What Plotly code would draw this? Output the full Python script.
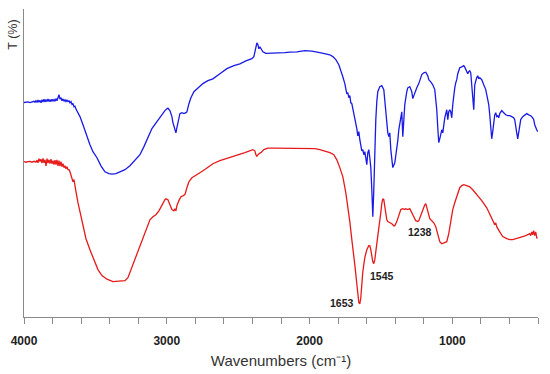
import plotly.graph_objects as go

# ---- Data ----
blue_wn = [4000, 3986, 3972, 3958, 3944, 3930, 3923, 3916, 3909, 3902, 3895, 3888, 3881, 3874, 3867, 3860,
           3853, 3846, 3839, 3832, 3825, 3818, 3811, 3804, 3797, 3790, 3783, 3776, 3769, 3762, 3755, 3748,
           3741, 3734, 3727, 3720, 3713, 3706, 3699, 3692, 3685, 3678, 3671, 3664, 3657, 3650, 3643, 3636,
           3622, 3608, 3587, 3559, 3538, 3517, 3489, 3461, 3433, 3405, 3384, 3356, 3328, 3293, 3258, 3223,
           3188, 3160, 3132, 3104, 3069, 3041, 3013, 2999, 2992, 2978, 2964, 2957, 2950, 2943, 2936, 2929,
           2922, 2915, 2908, 2894, 2880, 2866, 2859, 2845, 2831, 2810, 2782, 2747, 2712, 2677, 2628, 2579,
           2530, 2488, 2446, 2404, 2390, 2383, 2376, 2369, 2362, 2355, 2348, 2341, 2327, 2306, 2278, 2243,
           2208, 2173, 2138, 2089, 2033, 1984, 1928, 1886, 1858, 1837, 1816, 1795, 1781, 1767, 1753, 1746,
           1739, 1732, 1725, 1718, 1711, 1704, 1690, 1676, 1669, 1662, 1655, 1648, 1641, 1634, 1627, 1620,
           1613, 1606, 1599, 1592, 1585, 1578, 1571, 1564, 1557, 1550, 1543, 1536, 1529, 1522, 1508, 1494,
           1480, 1473, 1466, 1459, 1452, 1445, 1438, 1431, 1424, 1417, 1403, 1389, 1382, 1375, 1368, 1361,
           1354, 1347, 1340, 1333, 1319, 1312, 1298, 1284, 1277, 1270, 1256, 1249, 1235, 1214, 1200, 1186,
           1172, 1165, 1151, 1137, 1123, 1116, 1109, 1102, 1095, 1088, 1081, 1074, 1067, 1060, 1053, 1039,
           1032, 1025, 1018, 1011, 1004, 997, 990, 983, 976, 969, 962, 948, 934, 920, 913, 906,
           899, 892, 885, 878, 871, 864, 857, 850, 843, 836, 829, 822, 815, 808, 794, 780,
           766, 759, 745, 738, 731, 724, 717, 710, 703, 696, 689, 682, 675, 668, 654, 640,
           626, 612, 598, 584, 570, 563, 556, 549, 542, 535, 528, 521, 507, 493, 479, 465,
           451, 437, 430, 423, 416, 409, 402]
blue_T = [71.4, 71.5, 71.6, 71.4, 71.7, 71.8, 71.5, 72.0, 71.4, 72.2, 71.5, 72.1, 71.3, 72.3, 71.6, 72.5,
          71.6, 72.4, 71.7, 72.6, 71.7, 72.4, 71.7, 72.5, 71.9, 72.4, 71.8, 72.7, 72.0, 73.3, 74.0, 72.5,
          73.0, 72.0, 72.6, 71.8, 72.3, 71.7, 72.2, 71.7, 72.0, 71.3, 71.7, 70.8, 71.0, 70.0, 70.2, 69.2,
          68.0, 66.7, 64.0, 60.0, 57.3, 55.0, 53.0, 50.3, 48.3, 47.7, 47.5, 47.7, 48.2, 49.0, 50.3, 52.0,
          54.0, 56.7, 60.0, 62.7, 65.0, 67.0, 68.7, 69.3, 69.5, 68.7, 66.7, 64.7, 63.3, 62.0, 61.3, 63.0,
          65.0, 66.3, 67.7, 68.0, 67.7, 68.0, 68.3, 71.0, 73.0, 75.0, 76.3, 77.7, 78.7, 79.3, 81.0, 82.7,
          83.7, 84.3, 85.3, 86.0, 86.7, 88.3, 90.3, 91.3, 90.7, 89.3, 90.0, 89.3, 88.3, 87.8, 87.8, 88.0,
          87.8, 88.0, 88.2, 88.3, 88.7, 88.5, 88.0, 87.7, 87.3, 86.7, 85.7, 84.0, 82.3, 80.0, 77.7, 75.0,
          74.3, 74.7, 73.0, 73.7, 71.3, 71.0, 68.0, 64.3, 62.7, 60.3, 61.7, 59.0, 57.0, 55.3, 55.7, 54.0,
          55.0, 52.3, 50.7, 54.7, 55.7, 53.0, 49.7, 42.3, 33.3, 42.3, 55.7, 65.7, 71.7, 75.0, 76.7, 77.0,
          75.7, 72.3, 67.3, 64.0, 61.3, 60.0, 61.3, 55.7, 51.3, 49.7, 51.3, 55.7, 58.7, 62.3, 64.0, 66.3,
          68.3, 60.0, 68.3, 70.7, 75.0, 76.3, 76.7, 75.0, 72.7, 73.7, 75.7, 76.3, 77.7, 80.7, 81.3, 81.5,
          80.3, 79.0, 78.3, 77.3, 75.7, 73.0, 69.0, 63.0, 58.0, 59.3, 61.7, 62.3, 61.3, 64.0, 66.3, 69.0,
          65.7, 68.3, 69.0, 68.3, 66.3, 70.7, 74.0, 76.3, 78.0, 79.0, 81.0, 83.0, 83.3, 83.7, 83.2, 82.3,
          81.7, 81.0, 81.7, 82.0, 81.3, 76.7, 72.3, 69.0, 77.3, 79.0, 79.7, 80.3, 79.3, 79.7, 79.0, 77.3,
          75.7, 74.0, 70.7, 67.3, 62.3, 59.3, 61.7, 65.0, 67.3, 68.0, 66.7, 67.0, 66.3, 67.7, 68.7, 68.0,
          67.3, 67.0, 67.0, 66.7, 66.3, 65.7, 64.0, 61.3, 59.3, 61.3, 64.0, 65.7, 66.7, 67.3, 67.7, 67.3,
          67.0, 66.3, 65.7, 64.0, 62.7, 62.3, 61.7]

red_wn = [4000, 3986, 3972, 3958, 3944, 3930, 3916, 3909, 3902, 3895, 3888, 3881, 3874, 3867, 3860, 3853,
          3846, 3839, 3832, 3825, 3818, 3811, 3804, 3797, 3790, 3783, 3776, 3769, 3762, 3755, 3748, 3741,
          3734, 3727, 3720, 3713, 3706, 3699, 3692, 3685, 3678, 3671, 3664, 3657, 3650, 3643, 3636, 3622,
          3608, 3587, 3566, 3538, 3510, 3482, 3454, 3419, 3377, 3328, 3293, 3272, 3251, 3230, 3202, 3167,
          3139, 3118, 3097, 3076, 3055, 3034, 3013, 3006, 2992, 2978, 2964, 2950, 2943, 2936, 2929, 2915,
          2901, 2887, 2873, 2859, 2845, 2824, 2796, 2768, 2726, 2677, 2628, 2537, 2453, 2397, 2383, 2376,
          2369, 2355, 2341, 2320, 2292, 2243, 2173, 2103, 2019, 1963, 1928, 1893, 1858, 1830, 1809, 1788,
          1767, 1746, 1732, 1718, 1704, 1697, 1683, 1669, 1662, 1655, 1648, 1641, 1634, 1627, 1613, 1599,
          1585, 1578, 1571, 1564, 1557, 1550, 1543, 1536, 1529, 1515, 1501, 1494, 1487, 1480, 1473, 1466,
          1459, 1452, 1438, 1424, 1410, 1403, 1389, 1375, 1361, 1347, 1333, 1326, 1312, 1298, 1284, 1270,
          1256, 1242, 1235, 1221, 1207, 1193, 1186, 1179, 1172, 1158, 1144, 1130, 1116, 1102, 1088, 1074,
          1053, 1039, 1025, 1011, 997, 983, 969, 948, 934, 920, 899, 878, 857, 829, 794, 759,
          731, 710, 703, 696, 689, 668, 647, 619, 598, 577, 549, 528, 507, 486, 472, 458,
          451, 444, 437, 430, 423, 416, 409, 402]
red_T = [51.7, 51.5, 51.7, 51.8, 51.5, 51.8, 51.5, 52.2, 51.3, 52.7, 51.7, 52.5, 51.2, 52.8, 51.3, 52.3,
         50.3, 52.7, 51.2, 52.3, 51.0, 52.5, 51.0, 52.0, 50.7, 52.2, 50.7, 52.3, 50.3, 52.0, 50.2, 51.7,
         50.0, 51.0, 49.7, 50.3, 49.3, 50.0, 49.0, 49.0, 48.3, 47.3, 46.7, 45.0, 45.7, 43.0, 41.7, 38.0,
         35.0, 30.0, 26.0, 22.3, 18.7, 15.7, 13.7, 12.5, 11.7, 11.8, 12.0, 13.0, 15.7, 18.3, 22.0, 26.3,
         30.0, 32.3, 33.3, 34.0, 35.3, 37.3, 39.0, 39.3, 39.0, 37.3, 35.7, 35.3, 36.0, 35.3, 37.0, 38.7,
         40.0, 40.3, 40.7, 43.0, 45.0, 46.3, 47.3, 48.0, 49.3, 51.0, 52.0, 53.3, 54.7, 55.7, 55.3, 54.0,
         53.5, 54.3, 54.7, 55.7, 56.2, 56.2, 56.2, 56.0, 56.2, 56.0, 55.7, 55.3, 54.7, 54.0, 52.3, 49.7,
         46.7, 41.3, 36.7, 31.7, 25.7, 23.3, 17.3, 11.0, 7.3, 4.7, 4.3, 6.3, 10.7, 15.0, 19.7, 22.3,
         23.7, 23.7, 22.3, 20.0, 18.3, 17.7, 19.0, 21.7, 24.0, 29.0, 34.7, 37.7, 39.3, 39.0, 36.7, 34.3,
         32.3, 31.7, 31.3, 31.0, 30.3, 30.3, 31.7, 33.7, 35.7, 36.0, 35.7, 36.0, 35.7, 36.0, 34.7, 33.0,
         32.0, 31.7, 32.0, 33.7, 35.7, 37.3, 37.7, 36.3, 34.7, 32.7, 32.0, 31.3, 30.0, 27.3, 25.0, 24.3,
         24.7, 25.0, 27.7, 31.7, 35.7, 38.0, 40.3, 43.0, 43.7, 44.0, 43.7, 43.3, 42.3, 40.7, 38.7, 36.3,
         33.7, 31.7, 30.7, 31.3, 30.0, 28.3, 26.7, 26.0, 25.7, 25.7, 26.0, 26.3, 26.7, 27.0, 27.3, 27.7,
         27.0, 28.3, 27.3, 28.7, 27.0, 28.3, 26.3, 26.3]

peak_labels = ["1653", "1545", "1238"]
peak_wn = [1774, 1494, 1228]
peak_T = [4.7, 13.7, 28.3]

x_major = [4000, 3000, 2000, 1000]

FONT = "Arial, 'Liberation Sans', sans-serif"
AXIS_GREY = "#8a8a8a"

ML, MR, MT, MB = 24, 11.7, 9.3, 57.3
W, H = 550, 374

fig = go.Figure()
fig.add_trace(go.Scatter(x=blue_wn, y=blue_T, mode="lines",
                         line=dict(color="#1a1ae6", width=1.3), showlegend=False))
fig.add_trace(go.Scatter(x=red_wn, y=red_T, mode="lines",
                         line=dict(color="#e61a1a", width=1.3), showlegend=False))

for lab, xv, yv in zip(peak_labels, peak_wn, peak_T):
    fig.add_annotation(x=xv, y=yv, xref="x", yref="y", text=lab, showarrow=False,
                       font=dict(family=FONT, size=10.5, color="#222222", weight="bold"),
                       xanchor="center", yanchor="middle")

# y-axis title placed near the top of the axis, as in the reference
fig.add_annotation(xref="paper", yref="paper",
                   x=(13 - ML) / (W - ML - MR), y=1 - (35 - MT) / (H - MT - MB),
                   text="T (%)", showarrow=False, textangle=-90,
                   font=dict(family=FONT, size=12.5, color="#333333"),
                   xanchor="center", yanchor="middle")

fig.update_layout(
    width=W, height=H,
    margin=dict(l=ML, r=MR, t=MT, b=MB, autoexpand=False),
    paper_bgcolor="white", plot_bgcolor="white",
    font=dict(family=FONT),
    xaxis=dict(range=[4000, 400], tickvals=x_major, ticktext=[str(v) for v in x_major],
               ticks="outside", ticklen=6, tickcolor=AXIS_GREY, tickwidth=1,
               ticklabelstandoff=7,
               tickfont=dict(family=FONT, size=12, color="#222222", weight="bold"),
               showline=True, linecolor=AXIS_GREY, linewidth=1, mirror=False,
               showgrid=False, zeroline=False,
               minor=dict(dtick=200, tick0=0, ticks="outside", ticklen=6, tickcolor=AXIS_GREY,
                          showgrid=False),
               title=dict(text="Wavenumbers (cm\u207b\u00b9)", font=dict(family=FONT, size=15, color="#333333"),
                          standoff=8)),
    yaxis=dict(range=[-0.1, 102.57], showticklabels=False, ticks="", showgrid=False, zeroline=False,
               showline=True, linecolor=AXIS_GREY, linewidth=1),
)

fig.write_html("out.html", config={"displayModeBar": False},
               post_script="document.body.style.margin='0';document.body.style.overflow='hidden';")
